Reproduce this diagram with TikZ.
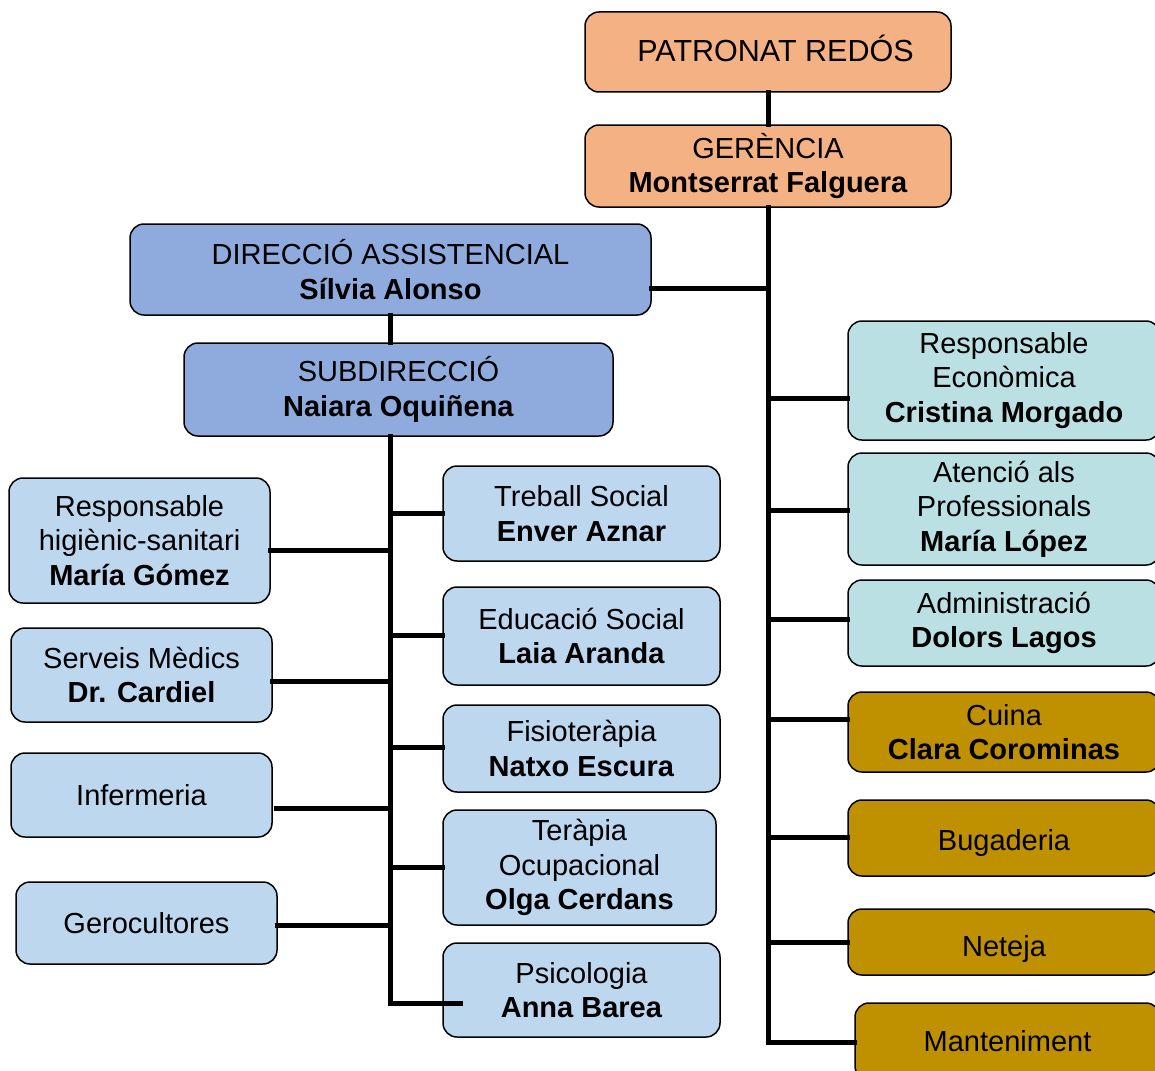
\documentclass[tikz,border=0pt]{standalone}
\usepackage{fontspec}
\setmainfont{Liberation Sans}
\newcommand\boxfont{\fontsize{29}{34.5}\selectfont}
\definecolor{orangebox}{HTML}{F4B183}
\definecolor{dirblue}{HTML}{8FAADC}
\definecolor{lightblue}{HTML}{BDD7EE}
\definecolor{tealbox}{HTML}{BBE0E3}
\definecolor{goldbox}{HTML}{BF9000}
\tikzset{
  orgbox/.style={draw=black, line width=1.5pt, rounded corners=14pt, align=center,
    inner sep=0pt, font=\boxfont, text=black},
  conn/.style={draw=black, line width=5pt, line cap=rect},
}
\begin{document}
\begin{tikzpicture}[x=1pt,y=-1pt]
\useasboundingbox (0,0) rectangle (1155,1070);
\clip (0,0) rectangle (1155,1070);
% top
\node[orgbox, fill=orangebox, minimum width=366, minimum height=80, font=\fontsize{30.5}{36}\selectfont, text height=28, text depth=8] (pat) at (768,52) {\hspace*{15pt}PATRONAT REDÓS};
\node[orgbox, fill=orangebox, minimum width=366, minimum height=82] (ger) at (768,166) {GERÈNCIA\\\textbf{Montserrat Falguera}};
\node[orgbox, fill=dirblue, minimum width=521, minimum height=91] (dir) at (390.5,269.5) {DIRECCIÓ ASSISTENCIAL\\\textbf{Sílvia Alonso}};
\node[orgbox, fill=dirblue, minimum width=429, minimum height=93] (sub) at (398.5,389.5) {SUBDIRECCIÓ\\\textbf{Naiara Oquiñena}};
% sub right children
\node[orgbox, fill=lightblue, minimum width=277, minimum height=95] (ts) at (581.5,513.5) {Treball Social\\\textbf{Enver Aznar}};
\node[orgbox, fill=lightblue, minimum width=277, minimum height=98] (es) at (581.5,636) {Educació Social\\\textbf{Laia Aranda}};
\node[orgbox, fill=lightblue, minimum width=277, minimum height=87] (fis) at (581.5,748.5) {Fisioteràpia\\\textbf{Natxo Escura}};
\node[orgbox, fill=lightblue, minimum width=273, minimum height=115] (to) at (579.5,867.5) {Teràpia\\Ocupacional\\\textbf{Olga Cerdans}};
\node[orgbox, fill=lightblue, minimum width=277, minimum height=94] (psi) at (581.5,990) {Psicologia\\\textbf{Anna Barea}};
% sub left children
\node[orgbox, fill=lightblue, minimum width=261, minimum height=125] (rhs) at (139.5,540.5) {Responsable\\higiènic-sanitari\\\textbf{María Gómez}};
\node[orgbox, fill=lightblue, minimum width=261, minimum height=94] (sm) at (141.5,675) {Serveis Mèdics\\\textbf{Dr. Cardiel}};
\node[orgbox, fill=lightblue, minimum width=261, minimum height=84] (inf) at (141.5,795) {Infermeria};
\node[orgbox, fill=lightblue, minimum width=261, minimum height=82] (gero) at (146.5,923) {Gerocultores};
% right column
\node[orgbox, fill=tealbox, minimum width=312, minimum height=119] (re) at (1004,380.5) {Responsable\\Econòmica\\\textbf{Cristina Morgado}};
\node[orgbox, fill=tealbox, minimum width=312, minimum height=112] (ap) at (1004,509) {Atenció als\\Professionals\\\textbf{María López}};
\node[orgbox, fill=tealbox, minimum width=312, minimum height=86] (adm) at (1004,623) {Administració\\\textbf{Dolors Lagos}};
\node[orgbox, fill=goldbox, minimum width=312, minimum height=80] (cui) at (1004,732) {Cuina\\\textbf{Clara Corominas}};
\node[orgbox, fill=goldbox, minimum width=312, minimum height=76, text height=31, text depth=6] (bug) at (1004,838) {Bugaderia};
\node[orgbox, fill=goldbox, minimum width=312, minimum height=66, text height=35, text depth=6] (net) at (1004,942) {Neteja};
\node[orgbox, fill=goldbox, minimum width=305, minimum height=77] (man) at (1007.5,1041.5) {Manteniment};
% connectors
\draw[conn] (pat.south) -- (ger.north);
\draw[conn] (ger.south) -- (ger.south |- 0,1042) -- (man.west |- 0,1042);
\draw[conn] (dir.east |- 0,288) -- (ger.south |- 0,288);
\draw[conn] (re.west |- 0,398) -- (ger.south |- 0,398);
\draw[conn] (ap.west |- 0,510) -- (ger.south |- 0,510);
\draw[conn] (adm.west |- 0,619) -- (ger.south |- 0,619);
\draw[conn] (cui.west |- 0,719) -- (ger.south |- 0,719);
\draw[conn] (bug.west |- 0,837) -- (ger.south |- 0,837);
\draw[conn] (net.west |- 0,942) -- (ger.south |- 0,942);
\draw[conn] (dir.south) -- (dir.south |- sub.north);
\coordinate (psiend) at ([xshift=18]psi.west |- 0,1003);
\draw[conn] (sub.south -| dir.south) -- (dir.south |- 0,1003) -- (psiend);
\draw[conn] (ts.west |- 0,513) -- (dir.south |- 0,513);
\draw[conn] (es.west |- 0,635) -- (dir.south |- 0,635);
\draw[conn] (fis.west |- 0,747) -- (dir.south |- 0,747);
\draw[conn] (to.west |- 0,867) -- (dir.south |- 0,867);
\draw[conn] (rhs.east |- 0,550) -- (dir.south |- 0,550);
\draw[conn] (sm.east |- 0,681) -- (dir.south |- 0,681);
\draw[conn] ([xshift=4]inf.east |- 0,808) -- (dir.south |- 0,808);
\draw[conn] (gero.east |- 0,925) -- (dir.south |- 0,925);
\end{tikzpicture}
\end{document}
